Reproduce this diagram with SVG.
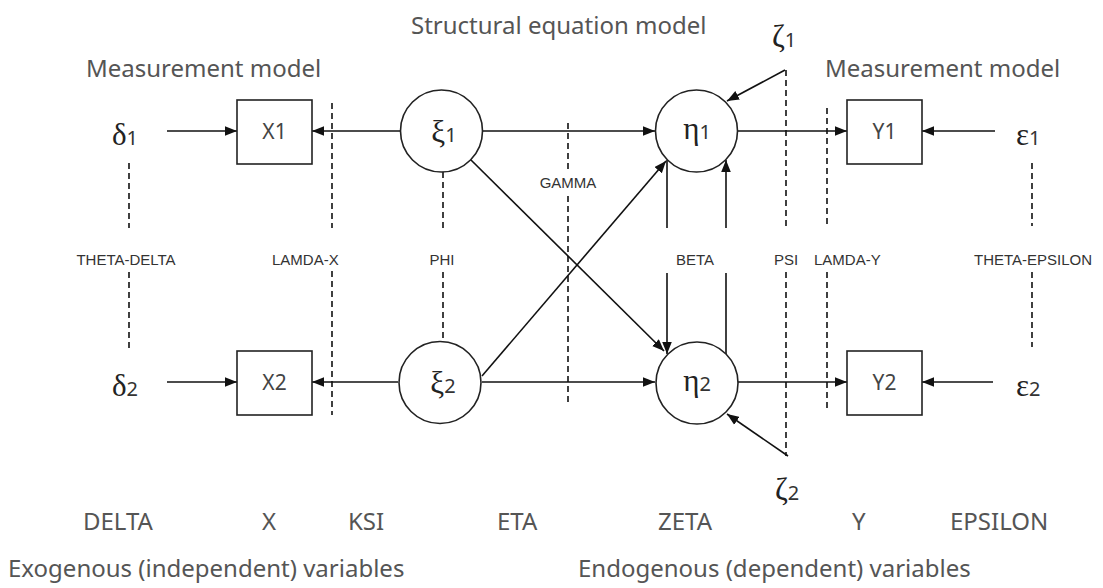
<svg xmlns="http://www.w3.org/2000/svg" width="1103" height="588" viewBox="0 0 1103 588">
<style>
.big{font-family:"Noto Sans","Open Sans",sans-serif;font-size:24px;fill:#555}
.small{font-family:"Liberation Sans",Arial,sans-serif;font-size:15px;fill:#333}
.gr{font-family:"Liberation Serif","Times New Roman",serif;font-size:31px;fill:#222}
.dg{font-family:"Noto Sans","Open Sans",sans-serif;font-size:20px;fill:#333}
.lbl{font-family:"Noto Sans","Open Sans",sans-serif;font-size:21px;fill:#444}
.box{fill:#fff;stroke:#222;stroke-width:1.6}
.ln{stroke:#111;stroke-width:1.6;fill:none}
.dash{stroke:#111;stroke-width:1.6;stroke-dasharray:6 4;fill:none}
</style>
<defs>
<marker id="ah" viewBox="0 0 10 8" refX="10" refY="4" markerWidth="12" markerHeight="10" markerUnits="userSpaceOnUse" orient="auto">
<path d="M0,0 L10,4 L0,8 z" fill="#111"/>
</marker>
</defs>
<rect width="1103" height="588" fill="#fff"/>

<g id="titles">
<text class="big" x="411" y="34" font-size="25">Structural equation model</text>
<text class="big" x="86" y="77">Measurement model</text>
<text class="big" x="825" y="77">Measurement model</text>
</g>

<g id="dashed">
<path class="dash" d="M129,163 V228 M129,272 V348"/>
<path class="dash" d="M332,103 V228 M332,271 V415"/>
<path class="dash" d="M443,172 V228 M443,272 V341"/>
<path class="dash" d="M568,123 V171 M568,196 V405"/>
<path class="dash" d="M786,70 V228 M786,272 V456"/>
<path class="dash" d="M827,108 V228 M827,272 V412"/>
<path class="dash" d="M1032,163 V226 M1032,272 V347"/>
</g>

<g id="connectors">
<line class="ln" x1="167" y1="131" x2="237" y2="131" marker-end="url(#ah)"/>
<line class="ln" x1="400" y1="131" x2="312" y2="131" marker-end="url(#ah)"/>
<line class="ln" x1="483" y1="131" x2="655" y2="131" marker-end="url(#ah)"/>
<line class="ln" x1="738" y1="131" x2="847" y2="131" marker-end="url(#ah)"/>
<line class="ln" x1="995" y1="131" x2="922" y2="131" marker-end="url(#ah)"/>
<line class="ln" x1="785" y1="70" x2="727" y2="101" marker-end="url(#ah)"/>
<line class="ln" x1="167" y1="382" x2="237" y2="382" marker-end="url(#ah)"/>
<line class="ln" x1="398" y1="382" x2="312" y2="382" marker-end="url(#ah)"/>
<line class="ln" x1="482" y1="382" x2="655" y2="382" marker-end="url(#ah)"/>
<line class="ln" x1="738" y1="382" x2="847" y2="382" marker-end="url(#ah)"/>
<line class="ln" x1="993" y1="382" x2="922" y2="382" marker-end="url(#ah)"/>
<line class="ln" x1="788" y1="456" x2="727" y2="414" marker-end="url(#ah)"/>
<line class="ln" x1="470" y1="159" x2="664" y2="351" marker-end="url(#ah)"/>
<line class="ln" x1="482" y1="376" x2="666" y2="161" marker-end="url(#ah)"/>
<path class="ln" d="M667,160 V228"/>
<line class="ln" x1="667" y1="273" x2="667" y2="354" marker-end="url(#ah)"/>
<path class="ln" d="M726,354 V273"/>
<line class="ln" x1="726" y1="228" x2="726" y2="160" marker-end="url(#ah)"/>
</g>

<g id="X1"><rect class="box" x="237" y="100" width="75" height="64"/><text class="lbl" x="274.5" y="139" text-anchor="middle">X1</text></g>
<g id="X2"><rect class="box" x="237" y="351" width="75" height="64"/><text class="lbl" x="274.5" y="390" text-anchor="middle">X2</text></g>
<g id="Y1"><rect class="box" x="847" y="100" width="75" height="64"/><text class="lbl" x="884.5" y="139" text-anchor="middle">Y1</text></g>
<g id="Y2"><rect class="box" x="847" y="351" width="75" height="64"/><text class="lbl" x="884.5" y="390" text-anchor="middle">Y2</text></g>

<g id="ksi1"><circle class="box" cx="441.5" cy="131" r="41"/><text x="444" y="142" text-anchor="middle"><tspan class="gr" font-size="29">ξ</tspan><tspan class="dg">1</tspan></text></g>
<g id="ksi2"><circle class="box" cx="440" cy="382.5" r="41"/><text x="443" y="393" text-anchor="middle"><tspan class="gr" font-size="29">ξ</tspan><tspan class="dg">2</tspan></text></g>
<g id="eta1"><circle class="box" cx="696.5" cy="131" r="41"/><text x="697" y="139" text-anchor="middle"><tspan class="gr" font-size="32">η</tspan><tspan class="dg">1</tspan></text></g>
<g id="eta2"><circle class="box" cx="697" cy="383" r="41"/><text x="697" y="391" text-anchor="middle"><tspan class="gr" font-size="32">η</tspan><tspan class="dg">2</tspan></text></g>

<g id="delta1"><text x="112" y="145"><tspan class="gr">δ</tspan><tspan class="dg">1</tspan></text></g>
<g id="delta2"><text x="112" y="396"><tspan class="gr">δ</tspan><tspan class="dg">2</tspan></text></g>
<g id="eps1"><text x="1016" y="145"><tspan class="gr" font-size="33">ε</tspan><tspan class="dg">1</tspan></text></g>
<g id="eps2"><text x="1016" y="396"><tspan class="gr" font-size="33">ε</tspan><tspan class="dg">2</tspan></text></g>
<g id="zeta1"><text x="772" y="47"><tspan class="gr">ζ</tspan><tspan class="dg">1</tspan></text></g>
<g id="zeta2"><text x="775" y="500"><tspan class="gr">ζ</tspan><tspan class="dg">2</tspan></text></g>

<g id="matrix-labels">
<text class="small" x="126" y="265" text-anchor="middle">THETA-DELTA</text>
<text class="small" x="272" y="265">LAMDA-X</text>
<text class="small" x="442" y="265" text-anchor="middle">PHI</text>
<text class="small" x="568" y="188" text-anchor="middle">GAMMA</text>
<text class="small" x="695" y="265" text-anchor="middle">BETA</text>
<text class="small" x="774" y="265">PSI</text>
<text class="small" x="814" y="265">LAMDA-Y</text>
<text class="small" x="974" y="265">THETA-EPSILON</text>
</g>

<g id="bottom-labels">
<text class="big" x="83" y="530">DELTA</text>
<text class="big" x="262" y="530">X</text>
<text class="big" x="348" y="530">KSI</text>
<text class="big" x="497" y="530">ETA</text>
<text class="big" x="658" y="530">ZETA</text>
<text class="big" x="852" y="530">Y</text>
<text class="big" x="950" y="530">EPSILON</text>
<text class="big" x="8" y="577">Exogenous (independent) variables</text>
<text class="big" x="578" y="577">Endogenous (dependent) variables</text>
</g>
</svg>
